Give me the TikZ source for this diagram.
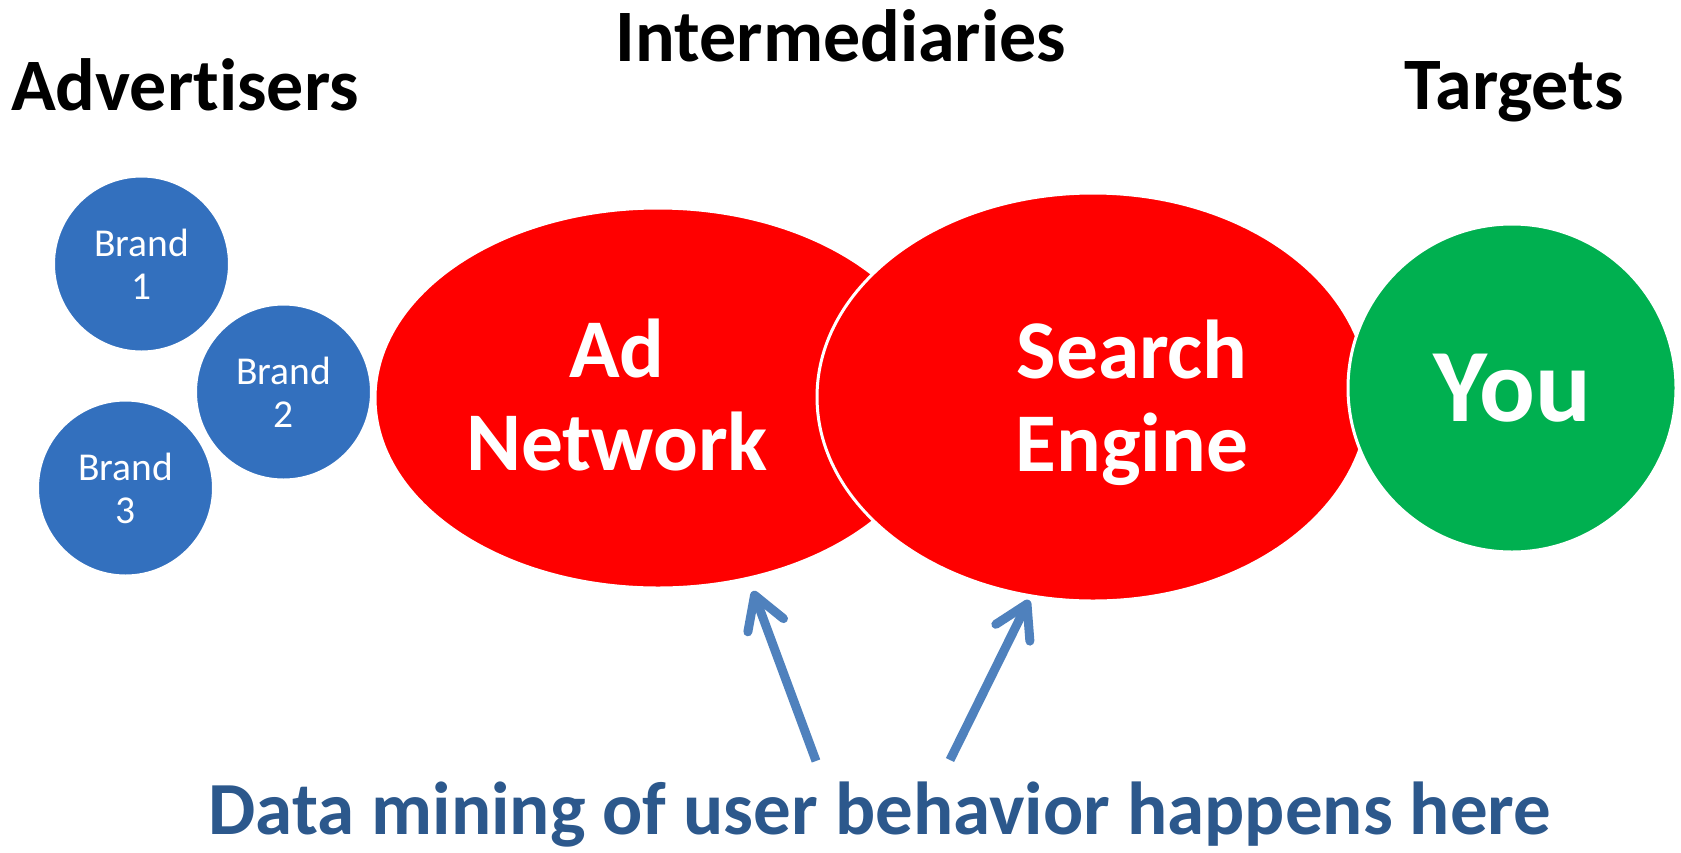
\documentclass[tikz,border=0pt]{standalone}
\usepackage{fontspec}
\setmainfont{Carlito}[Ligatures={NoCommon}]
\usetikzlibrary{shapes.geometric,arrows.meta}

\definecolor{brandblue}{RGB}{51,112,190}
\definecolor{hubred}{RGB}{255,0,0}
\definecolor{targetgreen}{RGB}{0,176,80}
\definecolor{arrowblue}{RGB}{79,129,189}
\definecolor{captionblue}{RGB}{44,88,140}

\begin{document}
\begin{tikzpicture}[x=1pt,y=-1pt,
  blob/.style={draw=white, line width=3pt, inner sep=0pt, text=white},
  brandnode/.style={blob, circle, fill=brandblue, minimum size=176pt,
    align=center, font=\fontsize{39.5}{43}\selectfont},
  hub/.style={blob, ellipse, fill=hubred},
  heading/.style={font=\fontsize{74}{80}\selectfont\bfseries, anchor=base},
  hublabel/.style={font=\fontsize{83.5}{93}\selectfont\bfseries, text=white, align=center},
  minearrow/.style={arrowblue, line width=9pt, line cap=butt,
    -{Straight Barb[length=32pt,width=38pt,round]}}
]
\useasboundingbox (0,0) rectangle (1681,852);

% column headings
\node[heading] (advertisers) at (185,110) {Advertisers};
\node[heading] (intermediaries) at (841,61) {Intermediaries};
\node[heading] (targets) at (1514,109) {Targets};

% advertisers
\node[brandnode] (brand1) at (141.5,264) {Brand\\1};
\node[brandnode] (brand2) at (283.5,392) {Brand\\2};
\node[brandnode] (brand3) at (125.5,488) {Brand\\3};

% intermediaries
\node[hub, minimum width=566pt, minimum height=380pt] (adnet) at (658,398) {};
\node[hub, minimum width=552pt, minimum height=408pt] (search) at (1093,397) {};
\node[hublabel] (adnetlabel) at (617,395) {Ad\\Network};
\node[hublabel] (searchlabel) at (1132,403) {Search\\Engine};

% target
\node[blob, circle, fill=targetgreen, minimum size=328pt,
  font=\fontsize{104}{110}\selectfont\bfseries] (you) at (1512,388) {You};

% caption and arrows
\node[font=\fontsize{75}{80}\selectfont\bfseries, text=captionblue, anchor=base]
  (caption) at (880,834) {Data mining of user behavior happens here};
\coordinate (adtail) at (816,761);
\coordinate (adtip) at (753,591);
\coordinate (setail) at (950,760);
\coordinate (setip) at (1029,600);
\draw[minearrow] (adtail) -- (adtip);
\draw[minearrow] (setail) -- (setip);
\end{tikzpicture}
\end{document}
